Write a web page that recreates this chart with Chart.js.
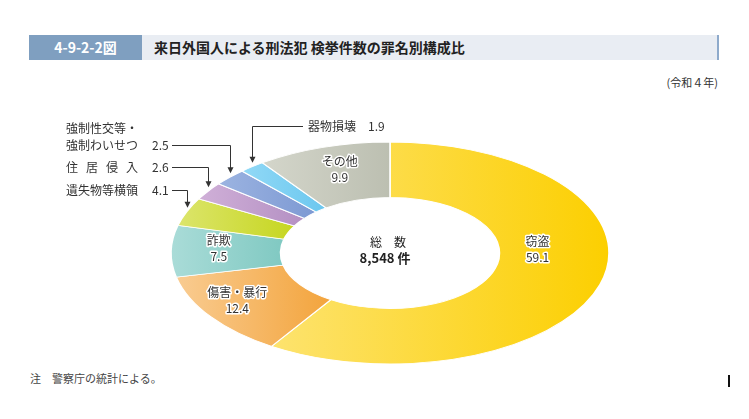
<!DOCTYPE html>
<html lang="ja">
<head>
<meta charset="utf-8">
<script src="https://cdn.jsdelivr.net/npm/chart.js@4.4.1/dist/chart.umd.min.js"></script>
<style>
  body { margin: 0; width: 749px; height: 419px; background: #fff; position: relative; overflow: hidden;
         font-family: "Noto Sans CJK JP", "Noto Sans", sans-serif; color: #333; }
  #bar { position: absolute; left: 29px; top: 35px; width: 688px; height: 25px; background: #e9edf3; border-right: 2px solid #8eaacb; }
  #num { position: absolute; left: 0; top: 0; width: 113px; height: 25px; background: #7f9fc0; color: #fff;
         font-weight: bold; font-size: 14px; line-height: 25px; text-align: center; }
  #ttl { position: absolute; left: 125px; top: 0; line-height: 25px; font-size: 14px; font-weight: bold; color: #222; }
  #year { position: absolute; right: 31px; top: 74px; font-size: 11px; color: #333; }
  #note { position: absolute; left: 30px; top: 370px; font-size: 11px; color: #444; }
  #mark { position: absolute; left: 728px; top: 375px; width: 2px; height: 12px; background: #111; }
  #pie { position: absolute; left: 0; top: 0; width: 749px; height: 419px; }
</style>
</head>
<body>
<div id="bar"><div id="num">4-9-2-2図</div><div id="ttl">来日外国人による刑法犯 検挙件数の罪名別構成比</div></div>
<div id="year">(令和４年)</div>
<div id="note">注　警察庁の統計による。</div>
<div id="mark"></div>
<canvas id="pie" width="749" height="419"></canvas>
<script>
// 罪名と構成比（%）
const categories = ['窃盗', '傷害・暴行', '詐欺', '遺失物等横領', '住居侵入', '強制性交等・強制わいせつ', '器物損壊', 'その他'];
const shares = [59.1, 12.4, 7.5, 4.1, 2.6, 2.5, 1.9, 9.9];
const totalLabel = ['総　数', '8,548 件'];

// 色（左側, 右側）
const colorsLeft  = ['#fde36f', '#f9cc92', '#aadcd8', '#dce56c', '#d0b0d8', '#9cb4e1', '#92d9f6', '#d4d6cb'];
const colorsRight = ['#fccf00', '#f3a43c', '#80c9c2', '#c6d620', '#b490c3', '#7d99d3', '#6bc7ef', '#bcbfb1'];

// 楕円の半径
const RX = 219, RY = 111;

// 内側ラベルの微調整
const innerShift = { 0: [-10, -27], 1: [-18, 0], 2: [-7, -3], 7: [0, -4] };
// 引き出し線ラベル
const callouts = [
  { i: 3, lineY: 190, lines: [['遺失物等横領', 190]], side: 'left' },
  { i: 4, lineY: 167, lines: [['住居侵入', 167]], side: 'left', spread: true },
  { i: 5, lineY: 145, lines: [['強制性交等・', 128], ['強制わいせつ', 145]], side: 'left' },
  { i: 6, lineY: 126, lines: [['器物損壊', 126]], side: 'top' }
];

function segGradient(ctx, chart, i) {
  const area = chart.chartArea;
  if (!area || area.width <= 0) return colorsRight[i];
  const cx = (area.left + area.right) / 2;
  const r = Math.min(area.width, area.height) / 2;
  const total = shares.reduce((a, b) => a + b, 0);
  let s = 0;
  for (let k = 0; k < i; k++) s += shares[k];
  const e = s + shares[i];
  const sinAt = f => Math.sin(f / total * 2 * Math.PI);
  const vals = [sinAt(s), sinAt(e)];
  if (s <= total * 0.25 && e >= total * 0.25) vals.push(1);
  if (s <= total * 0.75 && e >= total * 0.75) vals.push(-1);
  const xs = [];
  vals.forEach(v => { xs.push(cx + v * r, cx + v * r * 0.5); });
  const x0 = Math.min(...xs), x1 = Math.max(...xs);
  const g = ctx.createLinearGradient(x0, 0, x1 + 0.1, 0);
  g.addColorStop(0, colorsLeft[i]);
  g.addColorStop(1, colorsRight[i]);
  return g;
}

const squash = {
  id: 'squash',
  beforeDatasetsDraw(chart) {
    const a = chart.getDatasetMeta(0).data[0];
    const ctx = chart.ctx;
    ctx.save();
    ctx.translate(a.x, a.y);
    ctx.scale(RX / a.outerRadius, RY / a.outerRadius);
    ctx.translate(-a.x, -a.y);
  },
  afterDatasetsDraw(chart) {
    chart.ctx.restore();
  },
  afterDraw(chart) {
    const ctx = chart.ctx;
    const arcs = chart.getDatasetMeta(0).data;
    const a0 = arcs[0];
    const sx = RX / a0.outerRadius, sy = RY / a0.outerRadius;
    const pt = (ang, r) => [a0.x + Math.cos(ang) * r * sx, a0.y + Math.sin(ang) * r * sy];
    const font = "'Noto Sans CJK JP', sans-serif";

    // 内側ラベル
    ctx.save();
    ctx.textAlign = 'center';
    ctx.textBaseline = 'middle';
    ctx.font = '12px ' + font;
    ctx.lineJoin = 'round';
    Object.keys(innerShift).forEach(k => {
      const i = +k, arc = arcs[i];
      const mid = (arc.startAngle + arc.endAngle) / 2;
      const p = pt(mid, (arc.innerRadius + arc.outerRadius) / 2);
      const x = p[0] + innerShift[k][0], y = p[1] + innerShift[k][1];
      [[categories[i], y - 8], [shares[i].toFixed(1), y + 8]].forEach(([t, ty]) => {
        ctx.strokeStyle = '#fff'; ctx.lineWidth = 3;
        ctx.strokeText(t, x, ty);
        ctx.fillStyle = '#333';
        ctx.fillText(t, x, ty);
      });
    });

    // 中央
    ctx.fillStyle = '#222';
    ctx.font = '12px ' + font;
    ctx.fillText(totalLabel[0], a0.x - 2, 242);
    ctx.font = 'bold 13px ' + font;
    ctx.fillText(totalLabel[1], a0.x - 5, 258);

    // 引き出し線
    ctx.textAlign = 'left';
    ctx.font = '12px ' + font;
    ctx.strokeStyle = '#333';
    ctx.fillStyle = '#333';
    ctx.lineWidth = 1;
    callouts.forEach(c => {
      const arc = arcs[c.i];
      const mid = (arc.startAngle + arc.endAngle) / 2;
      const p = pt(mid, arc.outerRadius);
      const tipX = Math.round(p[0]) + 0.5, tipY = p[1] - 4;
      const ly = c.lineY + 0.5;
      let startX, textX, valX;
      if (c.side === 'left') { textX = 66; valX = 152; startX = 172; }
      else { textX = 308; valX = 368; startX = 303; }
      c.lines.forEach(([t, ty]) => {
        if (c.spread) {
          const chars = [...t], w = 72 - 12;
          chars.forEach((ch, j) => ctx.fillText(ch, textX + j * w / (chars.length - 1), ty));
        } else {
          ctx.fillText(t, textX, ty);
        }
      });
      ctx.fillText(shares[c.i].toFixed(1), valX, c.lineY);
      ctx.beginPath();
      ctx.moveTo(startX, ly);
      ctx.lineTo(tipX, ly);
      ctx.lineTo(tipX, tipY - 5);
      ctx.stroke();
      ctx.beginPath();
      ctx.moveTo(tipX - 3, tipY - 6);
      ctx.lineTo(tipX + 3, tipY - 6);
      ctx.lineTo(tipX, tipY);
      ctx.closePath();
      ctx.fill();
    });
    ctx.restore();
  }
};

new Chart(document.getElementById('pie').getContext('2d'), {
  type: 'doughnut',
  data: {
    labels: categories,
    datasets: [{
      data: shares,
      backgroundColor: c => segGradient(c.chart.ctx, c.chart, c.dataIndex),
      borderColor: '#ffffff',
      borderWidth: 0.8,
      hoverOffset: 0
    }]
  },
  options: {
    responsive: false,
    animation: false,
    cutout: '50%',
    layout: { padding: { left: 279, right: 248, top: 142, bottom: 55 } },
    plugins: { legend: { display: false }, tooltip: { enabled: false } },
    events: []
  },
  plugins: [squash]
});
</script>
</body>
</html>
